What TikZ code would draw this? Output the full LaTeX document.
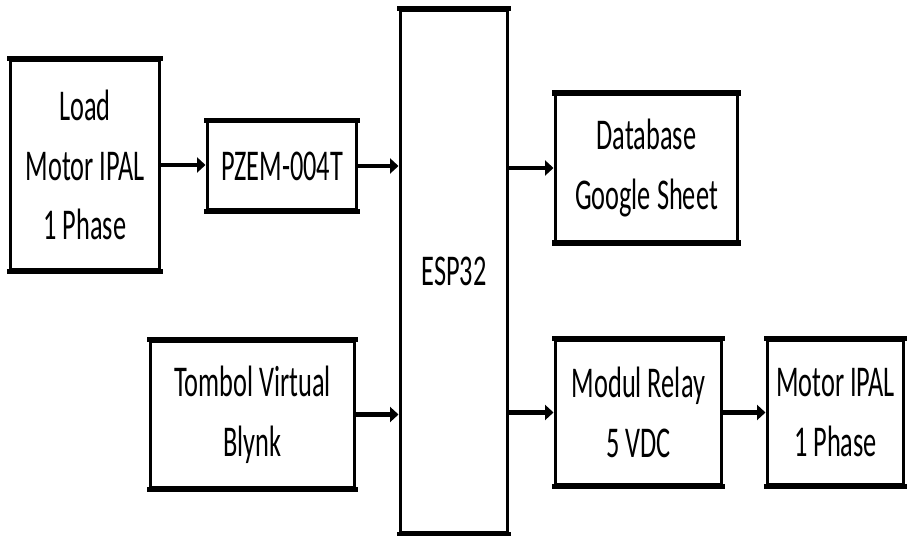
\documentclass[tikz,border=0pt]{standalone}
\usepackage{fontspec}
\setmainfont{Carlito}[FakeStretch=0.6]
\usetikzlibrary{arrows.meta}

\begin{document}
\begin{tikzpicture}[x=0.02cm, y=-0.02cm,
    hline/.style={line width=3pt, shorten <=-0.85pt, shorten >=-0.85pt},
    block/.style={draw, line width=1.7pt, align=center, inner sep=0pt,
        font=\fontsize{25}{34}\selectfont,
        append after command={
            (\tikzlastnode.north west) edge[hline] (\tikzlastnode.north east)
            (\tikzlastnode.south west) edge[hline] (\tikzlastnode.south east)}},
    link/.style={line width=2.6pt, -{Triangle[length=0.17cm, width=0.3cm]}}]
    \useasboundingbox (0,0) rectangle (907,536);
    % Blocks
    \node[block, minimum width=3cm, minimum height=4.2cm] (load) at (85,165) {Load\\Motor IPAL\\1 Phase};
    \node[block, minimum width=3cm, minimum height=1.76cm] (pzem) at (282,166) {PZEM-004T};
    \node[block, minimum width=2.16cm, minimum height=10.46cm] (esp) at (454,271.5) {ESP32};
    \node[block, minimum width=3.66cm, minimum height=2.94cm] (db) at (646.5,168) {Database\\Google Sheet};
    \node[block, minimum width=4.1cm, minimum height=2.94cm] (tombol) at (252.5,414.5) {Tombol Virtual\\Blynk};
    \node[block, minimum width=3.34cm, minimum height=2.9cm] (relay) at (638.5,412.5) {Modul Relay\\5 VDC};
    \node[block, minimum width=2.74cm, minimum height=2.9cm] (motor) at (835.5,412.5) {Motor IPAL\\1 Phase};
    % Arrows
    \draw[link] (load.east) -- (load.east -| pzem.west);
    \draw[link] (pzem.east) -- (pzem.east -| esp.west);
    \draw[link] (db.west -| esp.east) -- (db.west);
    \draw[link] (tombol.east) -- (tombol.east -| esp.west);
    \draw[link] (relay.west -| esp.east) -- (relay.west);
    \draw[link] (relay.east) -- (motor.west);
\end{tikzpicture}
\end{document}
